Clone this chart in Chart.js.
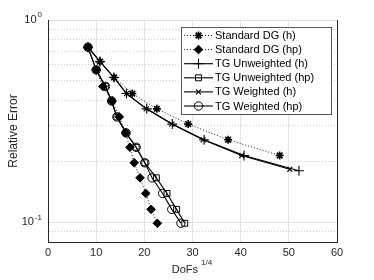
<!DOCTYPE html>
<html>
<head>
<meta charset="utf-8">
<script src="https://cdn.jsdelivr.net/npm/chart.js@4"></script>
<style>
  body { margin: 0; background: #fff; }
  canvas { display: block; }
</style>
</head>
<body>
<canvas id="errChart" width="374" height="280"></canvas>
<script>
// values (x = DoFs^(1/4), y = relative error)
const dgH_x = [8.3, 10.8, 13.7, 17.5, 22.6, 29.1, 37.4, 48.1];
const dgH_y = [0.734, 0.623, 0.520, 0.433, 0.364, 0.306, 0.256, 0.214];

const dgHp_x = [8.3, 10.0, 11.4, 13.3, 14.8, 16.1, 17.0, 17.9, 19.1, 20.3, 21.4, 22.7];
const dgHp_y = [0.734, 0.567, 0.470, 0.398, 0.332, 0.277, 0.235, 0.197, 0.166, 0.139, 0.116, 0.099];

const tgUwH_x = [8.3, 10.8, 13.7, 16.3, 20.5, 25.8, 32.4, 40.7, 52.1];
const tgUwH_y = [0.734, 0.623, 0.520, 0.433, 0.364, 0.306, 0.256, 0.214, 0.180];

const tgUwHp_x = [8.3, 10.0, 11.9, 13.2, 14.3, 16.2, 18.3, 20.1, 22.5, 24.7, 26.7, 28.4];
const tgUwHp_y = [0.734, 0.567, 0.470, 0.398, 0.332, 0.277, 0.235, 0.197, 0.166, 0.139, 0.116, 0.099];

const tgWH_x = [8.3, 10.8, 13.7, 16.3, 20.4, 25.7, 32.2, 40.2, 50.2];
const tgWH_y = [0.734, 0.623, 0.520, 0.433, 0.364, 0.306, 0.256, 0.214, 0.183];

const tgWHp_x = [8.3, 10.0, 11.9, 13.2, 14.3, 16.2, 18.3, 20.1, 21.6, 23.8, 25.7, 27.6];
const tgWHp_y = [0.734, 0.567, 0.470, 0.398, 0.332, 0.277, 0.235, 0.197, 0.166, 0.139, 0.116, 0.099];

const xTicks = [0, 10, 20, 30, 40, 50, 60];
const yGrid = [0.08, 0.09, 0.1, 0.2, 0.3, 0.4, 0.5, 0.6, 0.7, 0.8, 0.9, 1];
const yLabels = [{ v: 1, exp: "0" }, { v: 0.1, exp: "-1" }];

const FONT = "'Liberation Sans', Arial, Helvetica, sans-serif";
const INK = "#262626";

function pts(xs, ys) {
  return xs.map((x, i) => ({ x: x, y: ys[i] }));
}

const series = [
  { label: "Standard DG (h)", data: pts(dgH_x, dgH_y), dash: [1, 2], lw: 0.9,
    style: "star", r: 4, pbw: 1.6, fill: "#000" },
  { label: "Standard DG (hp)", data: pts(dgHp_x, dgHp_y), dash: [1, 2], lw: 0.9,
    style: "rectRot", r: 4.3, pbw: 1, fill: "#000" },
  { label: "TG Unweighted (h)", data: pts(tgUwH_x, tgUwH_y), dash: [], lw: 1.1,
    style: "cross", r: 5, pbw: 1.1, fill: "rgba(0,0,0,0)" },
  { label: "TG Unweighted (hp)", data: pts(tgUwHp_x, tgUwHp_y), dash: [], lw: 1.1,
    style: "rect", r: 4.2, pbw: 1, fill: "rgba(0,0,0,0)" },
  { label: "TG Weighted (h)", data: pts(tgWH_x, tgWH_y), dash: [], lw: 1.1,
    style: "crossRot", r: 3.5, pbw: 1.1, fill: "rgba(0,0,0,0)" },
  { label: "TG Weighted (hp)", data: pts(tgWHp_x, tgWHp_y), dash: [], lw: 1.1,
    style: "circle", r: 4.2, pbw: 1, fill: "rgba(0,0,0,0)" },
];

function drawMarker(ctx, s, x, y) {
  if (Chart.helpers && Chart.helpers.drawPoint) {
    ctx.save();
    ctx.strokeStyle = "#000";
    ctx.fillStyle = s.fill;
    ctx.lineWidth = s.pbw;
    ctx.setLineDash([]);
    Chart.helpers.drawPoint(ctx, { pointStyle: s.style, radius: s.r, rotation: 0, borderWidth: s.pbw }, x, y);
    ctx.restore();
  }
}

// tick labels, axis titles and the legend box
const decorations = {
  id: "decorations",
  afterDraw(chart) {
    const ctx = chart.ctx;
    const xs = chart.scales.x, ys = chart.scales.y;
    const area = chart.chartArea;
    ctx.save();
    ctx.fillStyle = INK;

    // x tick labels
    ctx.font = "11px " + FONT;
    ctx.textAlign = "center";
    ctx.textBaseline = "middle";
    xTicks.forEach(v => ctx.fillText(String(v), xs.getPixelForValue(v), area.bottom + 11));

    // y tick labels, 10 with a raised exponent
    yLabels.forEach(t => {
      const py = ys.getPixelForValue(t.v);
      ctx.font = "8px " + FONT;
      const ew = ctx.measureText(t.exp).width;
      const right = area.left - 6;
      ctx.textAlign = "right";
      ctx.textBaseline = "middle";
      ctx.fillText(t.exp, right, py - 5);
      ctx.font = "11px " + FONT;
      ctx.fillText("10", right - ew - 1, py);
    });

    // axis titles
    ctx.textAlign = "left";
    ctx.textBaseline = "middle";
    const base = "DoFs";
    ctx.font = "11px " + FONT;
    const bw = ctx.measureText(base).width;
    ctx.font = "8px " + FONT;
    const sw = ctx.measureText("1/4").width;
    const startX = 192 - (bw + 3 + sw) / 2;
    ctx.font = "11px " + FONT;
    ctx.fillText(base, startX, 270);
    ctx.font = "8px " + FONT;
    ctx.fillText("1/4", startX + bw + 3, 263);

    ctx.save();
    ctx.translate(14, (area.top + area.bottom) / 2);
    ctx.rotate(-Math.PI / 2);
    ctx.font = "12px " + FONT;
    ctx.textAlign = "center";
    ctx.fillText("Relative Error", 0, 0);
    ctx.restore();

    // legend
    const lx = 181, ly = 27, lw = 150, lh = 87;
    ctx.fillStyle = "#fff";
    ctx.fillRect(lx, ly, lw, lh);
    ctx.strokeStyle = "#555";
    ctx.lineWidth = 1;
    ctx.strokeRect(lx + 0.5, ly + 0.5, lw, lh);
    series.forEach((s, i) => {
      const cy = 35.5 + i * 14.1;
      ctx.save();
      ctx.strokeStyle = "#000";
      ctx.lineWidth = s.lw;
      ctx.setLineDash(s.dash);
      ctx.beginPath();
      ctx.moveTo(lx + 3, cy);
      ctx.lineTo(lx + 32, cy);
      ctx.stroke();
      ctx.restore();
      drawMarker(ctx, s, lx + 17.5, cy);
      ctx.fillStyle = "#000";
      ctx.font = "11px " + FONT;
      ctx.textAlign = "left";
      ctx.textBaseline = "middle";
      ctx.fillText(s.label, lx + 34, cy + 0.5);
    });
    ctx.restore();
  }
};

new Chart(document.getElementById("errChart"), {
  type: "line",
  data: {
    datasets: series.map(s => ({
      label: s.label,
      data: s.data,
      borderColor: "#000",
      borderWidth: s.lw,
      borderDash: s.dash,
      pointStyle: s.style,
      pointRadius: s.r,
      pointBorderWidth: s.pbw,
      pointBorderColor: "#000",
      pointBackgroundColor: s.fill,
      tension: 0,
      fill: false,
    })),
  },
  options: {
    responsive: false,
    animation: false,
    layout: { padding: { left: 48, right: 37, top: 20, bottom: 38 } },
    plugins: { legend: { display: false }, tooltip: { enabled: false } },
    scales: {
      x: {
        type: "linear",
        min: 0,
        max: 60,
        ticks: { display: false, stepSize: 10 },
        grid: {
          drawTicks: false,
          color: c => (c.tick && c.tick.value === 60 ? INK : c.tick && c.tick.value === 0 ? "rgba(0,0,0,0)" : "#e3e3e3"),
          lineWidth: 1,
        },
        border: { display: true, color: INK, width: 1 },
      },
      y: {
        type: "logarithmic",
        min: 0.08,
        max: 1,
        afterBuildTicks: scale => { scale.ticks = yGrid.map(v => ({ value: v })); },
        ticks: { display: false },
        grid: {
          drawTicks: false,
          color: c => {
            if (!c.tick) return "#e3e3e3";
            const v = c.tick.value;
            if (v === 0.08) return "rgba(0,0,0,0)";
            if (v === 0.1 || v === 1) return "#e3e3e3";
            return "#d2d2d2";
          },
          lineWidth: 1,
        },
        border: {
          display: true,
          color: INK,
          width: 1,
          dash: c => (c.tick && c.tick.value !== 0.1 && c.tick.value !== 1 ? [1, 2] : []),
        },
      },
    },
  },
  plugins: [decorations],
});
</script>
</body>
</html>
